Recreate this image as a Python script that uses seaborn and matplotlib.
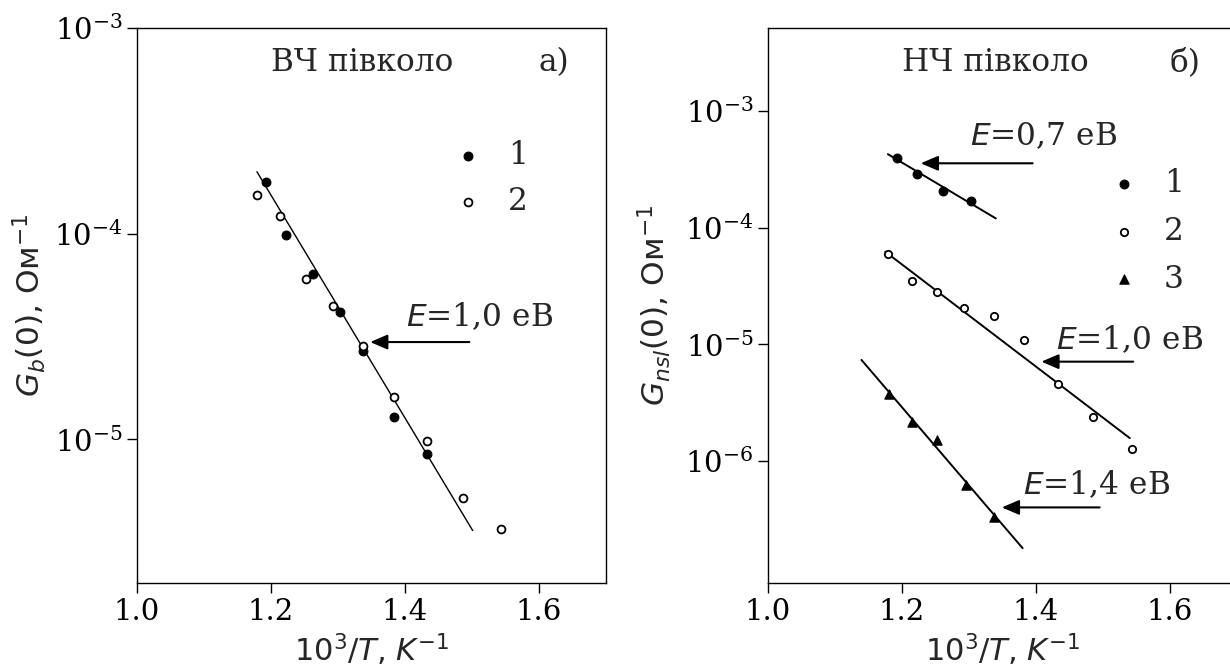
import matplotlib
matplotlib.use("Agg")
import matplotlib.pyplot as plt
import seaborn as sns
import numpy as np
from matplotlib.ticker import NullLocator, FixedLocator

# --- panel a): high-frequency semicircle ---
a_x1 = [1.193, 1.222, 1.262, 1.303, 1.337, 1.383, 1.433]
a_y1 = [1.79e-4, 9.87e-5, 6.33e-5, 4.15e-5, 2.69e-5, 1.29e-5, 8.5e-6]
a_x2 = [1.179, 1.214, 1.252, 1.293, 1.337, 1.384, 1.433, 1.486, 1.543]
a_y2 = [1.54e-4, 1.22e-4, 6.05e-5, 4.46e-5, 2.85e-5, 1.60e-5, 9.8e-6, 5.2e-6, 3.67e-6]
a_fit_x = [1.179, 1.501]
a_fit_y = [2.0e-4, 3.6e-6]

# --- panel б): low-frequency semicircle ---
b_x1 = [1.193, 1.222, 1.261, 1.303]
b_y1 = [3.94e-4, 2.88e-4, 2.07e-4, 1.70e-4]
b_x2 = [1.179, 1.215, 1.252, 1.293, 1.337, 1.382, 1.433, 1.485, 1.543]
b_y2 = [5.9e-5, 3.52e-5, 2.79e-5, 2.06e-5, 1.75e-5, 1.09e-5, 4.58e-6, 2.36e-6, 1.27e-6]
b_x3 = [1.180, 1.215, 1.252, 1.295, 1.337]
b_y3 = [3.76e-6, 2.15e-6, 1.52e-6, 6.24e-7, 3.34e-7]
b_fit1_x = [1.179, 1.340]
b_fit1_y = [4.26e-4, 1.20e-4]
b_fit2_x = [1.175, 1.540]
b_fit2_y = [6.22e-5, 1.57e-6]
b_fit3_x = [1.1395, 1.380]
b_fit3_y = [7.35e-6, 1.79e-7]

x_ticks = [1.0, 1.2, 1.4, 1.6]
a_yticks = [1e-3, 1e-4, 1e-5]
b_yticks = [1e-3, 1e-4, 1e-5, 1e-6]

sns.set_theme(style="ticks")
plt.rcParams["font.family"] = ["DejaVu Serif"]
plt.rcParams["mathtext.fontset"] = "dejavusans"
plt.rcParams["axes.edgecolor"] = "black"
plt.rcParams["axes.linewidth"] = 1.0
plt.rcParams["xtick.color"] = "black"
plt.rcParams["ytick.color"] = "black"
plt.rcParams["xtick.major.size"] = 7
plt.rcParams["ytick.major.size"] = 7
plt.rcParams["xtick.major.width"] = 1.0
plt.rcParams["ytick.major.width"] = 1.0

W, H = 1230, 670
fig = plt.figure(figsize=(W / 100, H / 100), dpi=100)
ax_w = 469 / W
ax_h = 555 / H
ax_a = fig.add_axes([137 / W, 87 / H, ax_w, ax_h])
ax_b = fig.add_axes([768 / W, 87 / H, ax_w, ax_h])

TXT = 22.5
TICK = 21
arrow_kw = dict(arrowstyle="-|>,head_length=0.7,head_width=0.3",
                mutation_scale=15, lw=1.5, color="black", shrinkA=0, shrinkB=0)


def style_axes(ax, ylim, yticks):
    ax.set_yscale("log")
    ax.set_xlim(1.0, 1.7)
    ax.set_ylim(*ylim)
    ax.xaxis.set_major_locator(FixedLocator(x_ticks))
    ax.yaxis.set_major_locator(FixedLocator(yticks))
    ax.yaxis.set_minor_locator(NullLocator())
    ax.xaxis.set_minor_locator(NullLocator())
    ax.tick_params(labelsize=TICK)
    ax.set_xlabel("10$^3$/$T$, $K^{-1}$", fontsize=22, family="DejaVu Sans", labelpad=4)
    for s in ax.spines.values():
        s.set_color("black")
        s.set_linewidth(1.0)


def arrow(ax, tip_x, tail_x, y):
    ax.annotate("", xy=(tip_x, y), xytext=(tail_x, y), arrowprops=arrow_kw)


def legend(ax, anchor, spacing):
    h, l = ax.get_legend_handles_labels()
    ax.legend(h, l, frameon=False, loc="upper left", bbox_to_anchor=anchor,
              borderaxespad=0, borderpad=0, handlelength=1.0, handletextpad=0.78,
              labelspacing=spacing, fontsize=TXT)


filled = dict(color="black", edgecolor="black", linewidth=0.8)
hollow = dict(facecolor="white", edgecolor="black", linewidth=1.3)

# ---------- panel a ----------
sns.lineplot(x=a_fit_x, y=a_fit_y, ax=ax_a, color="black", lw=1.0)
sns.scatterplot(x=a_x1, y=a_y1, ax=ax_a, marker="o", s=40, label="1", zorder=3, **filled)
sns.scatterplot(x=a_x2, y=a_y2, ax=ax_a, marker="o", s=32, label="2", zorder=3, **hollow)
style_axes(ax_a, (2.0e-6, 1e-3), a_yticks)
ax_a.set_ylabel("$G_b(0)$, Ом$^{-1}$", fontsize=TXT, family="DejaVu Sans")
ax_a.yaxis.set_label_coords(-0.19, 0.5)
ax_a.text(0.481, 0.937, "ВЧ півколо", transform=ax_a.transAxes, ha="center", va="center", fontsize=TXT)
ax_a.text(0.889, 0.937, "а)", transform=ax_a.transAxes, ha="center", va="center", fontsize=TXT)
arrow(ax_a, 1.348, 1.496, 2.97e-5)
ax_a.text(1.401, 3.94e-5, "$E$=1,0 еВ", ha="left", va="center", fontsize=TXT)
legend(ax_a, (0.6725, 0.798), 0.49)

# ---------- panel б ----------
for fx, fy in [(b_fit1_x, b_fit1_y), (b_fit2_x, b_fit2_y), (b_fit3_x, b_fit3_y)]:
    sns.lineplot(x=fx, y=fy, ax=ax_b, color="black", lw=1.4)
sns.scatterplot(x=b_x1, y=b_y1, ax=ax_b, marker="o", s=40, label="1", zorder=3, **filled)
sns.scatterplot(x=b_x2, y=b_y2, ax=ax_b, marker="o", s=28, label="2", zorder=3, **hollow)
sns.scatterplot(x=b_x3, y=b_y3, ax=ax_b, marker="^", s=45, label="3", zorder=3, **filled)
style_axes(ax_b, (9.0e-8, 5.14e-3), b_yticks)
ax_b.set_ylabel("$G_{nsl}(0)$, Ом$^{-1}$", fontsize=TXT, family="DejaVu Sans")
ax_b.yaxis.set_label_coords(-0.203, 0.5)
ax_b.text(0.4855, 0.937, "НЧ півколо", transform=ax_b.transAxes, ha="center", va="center", fontsize=TXT)
ax_b.text(0.889, 0.937, "б)", transform=ax_b.transAxes, ha="center", va="center", fontsize=TXT)
arrow(ax_b, 1.228, 1.395, 3.56e-4)
ax_b.text(1.301, 6.0e-4, "$E$=0,7 еВ", ha="left", va="center", fontsize=TXT)
arrow(ax_b, 1.408, 1.545, 7.1e-6)
ax_b.text(1.430, 1.09e-5, "$E$=1,0 еВ", ha="left", va="center", fontsize=TXT, clip_on=False)
arrow(ax_b, 1.349, 1.495, 4.0e-7)
ax_b.text(1.381, 6.2e-7, "$E$=1,4 еВ", ha="left", va="center", fontsize=TXT)
legend(ax_b, (0.725, 0.748), 0.54)

fig.savefig("out.png", dpi=100, facecolor="white")
